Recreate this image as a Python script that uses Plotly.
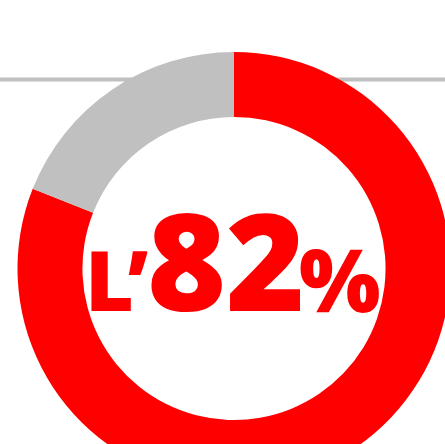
import plotly.graph_objects as go

# Data
labels = ["Oui", "Non"]
values = [81, 19]
colors = ["#ff0000", "#c0c0c0"]
big_text = "82"
prefix = "L’"
suffix = "%"

W, H = 470, 500
FONT = "Noto Sans"

fig = go.Figure()
fig.add_trace(go.Pie(
    labels=labels,
    values=values,
    hole=0.70,
    sort=False,
    direction="clockwise",
    rotation=0,
    marker=dict(colors=colors, line=dict(width=0)),
    textinfo="none",
    hoverinfo="none",
    showlegend=False,
    domain=dict(x=[17.5 / W, 450.5 / W], y=[15 / H, 448 / H]),
))

fig.add_shape(type="line", xref="paper", yref="paper",
              x0=0, x1=1, y0=(H - 79.5) / H, y1=(H - 79.5) / H,
              line=dict(color="#c0c0c0", width=4), layer="below")

def py(px):
    return (H - px) / H

fig.add_annotation(
    xref="paper", yref="paper", x=150 / W, y=py(278),
    xanchor="right", yanchor="middle", showarrow=False, text=prefix,
    font=dict(family=FONT, size=84, color="#ff0000", weight=900),
)
fig.add_annotation(
    xref="paper", yref="paper", x=226 / W, y=py(259),
    xanchor="center", yanchor="middle", showarrow=False, text=big_text,
    font=dict(family=FONT, size=135, color="#ff0000", weight=900),
)
fig.add_annotation(
    xref="paper", yref="paper", x=297 / W, y=py(278),
    xanchor="left", yanchor="middle", showarrow=False, text=suffix,
    font=dict(family=FONT, size=86, color="#ff0000", weight=900),
)

fig.update_layout(
    width=W, height=H,
    margin=dict(l=0, r=0, t=0, b=0),
    paper_bgcolor="white", plot_bgcolor="white",
)

fig.write_html(
    "out.html",
    config={"displayModeBar": False},
    post_script="document.body.style.margin='0';document.body.style.overflow='hidden';"
                "document.documentElement.style.overflow='hidden';",
)
